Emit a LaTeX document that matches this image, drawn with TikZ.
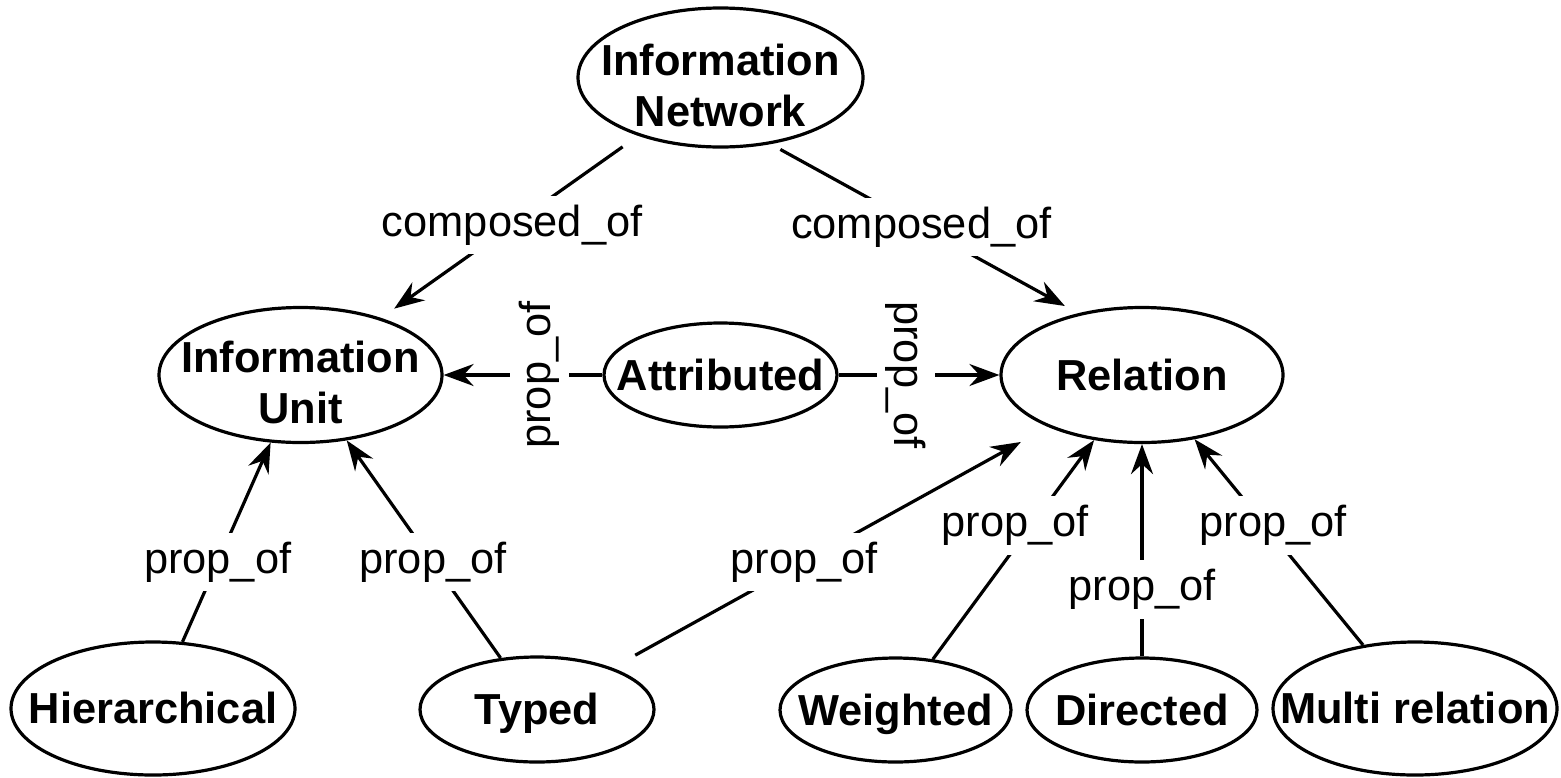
\documentclass[tikz,border=0pt]{standalone}
\usepackage{fontspec}
\setmainfont{Liberation Sans}
\usetikzlibrary{shapes.geometric,arrows.meta}

% node text: centred, no size of its own, first baseline raised by #1
\newcommand{\ntxt}[2][-7.5pt]{\makebox[0pt]{\raisebox{#1}[0pt][0pt]{\begin{tabular}[t]{@{}c@{}}#2\end{tabular}}}}

\begin{document}
\begin{tikzpicture}[x=0.5pt,y=-0.5pt,line width=1.6pt,
  >={Stealth[length=15pt,width=11pt,inset=5pt]},
  ent/.style={draw,ellipse,inner sep=0pt,font=\bfseries\fontsize{21.7pt}{25.5pt}\selectfont},
  lbl/.style={fill=white,inner sep=4.5pt,font=\fontsize{21.7pt}{26pt}\selectfont}]
\useasboundingbox (0,0) rectangle (1561,777);

\node[ent,minimum width=142.5pt,minimum height=69.5pt] (InfoNet) at (720.5,77.5) {\ntxt[1.25pt]{Information\\Network}};
\node[ent,minimum width=141.5pt,minimum height=67.5pt] (InfoUnit) at (300.5,375) {\ntxt[1.25pt]{Information\\Unit}};
\node[ent,minimum width=116.5pt,minimum height=52pt] (Attr) at (720.5,375) {\ntxt{Attributed}};
\node[ent,minimum width=141pt,minimum height=67.5pt] (Rel) at (1142,375) {\ntxt{Relation}};

\node[ent,minimum width=142pt,minimum height=66.5pt] (Hier) at (153,708.5) {\ntxt{Hierarchical}};
\node[ent,minimum width=117pt,minimum height=52.5pt] (Typed) at (537,709.5) {\ntxt{Typed}};
\node[ent,minimum width=115.5pt,minimum height=52pt] (Wgt) at (895.5,710) {\ntxt{Weighted}};
\node[ent,minimum width=115pt,minimum height=52pt] (Dir) at (1142,710) {\ntxt{Directed}};
\node[ent,minimum width=142pt,minimum height=66.5pt] (Multi) at (1415,708.5) {\ntxt{Multi relation}};

\draw[->,shorten <=9.5pt,shorten >=8pt] (InfoNet) -- node[lbl,pos=.49]{composed\_of} (InfoUnit);
\draw[->,shorten <=5.5pt,shorten >=7.5pt] (InfoNet.-53) -- node[lbl,pos=.49]{composed\_of} (Rel.136);

\draw[->] (Attr) -- node[lbl,rotate=90,pos=.395]{prop\_of} (InfoUnit);
\draw[->] (Attr) -- node[lbl,rotate=-90,pos=.42]{prop\_of} (Rel);

\draw[->] (Hier) -- node[lbl,pos=.4]{prop\_of} (InfoUnit);
\draw[->] (Typed) -- node[lbl,pos=.44]{prop\_of} (InfoUnit);
\draw[->,shorten <=13pt,shorten >=15.5pt] (Typed) -- node[lbl,pos=.44]{prop\_of} (Rel);
\foreach \src/\p/\dx in {Wgt/.61/-8pt,Dir/.315/0pt,Multi/.58/4pt}
  \draw[->] (\src) -- node[lbl,pos=\p,xshift=\dx]{prop\_of} (Rel);
\end{tikzpicture}
\end{document}
